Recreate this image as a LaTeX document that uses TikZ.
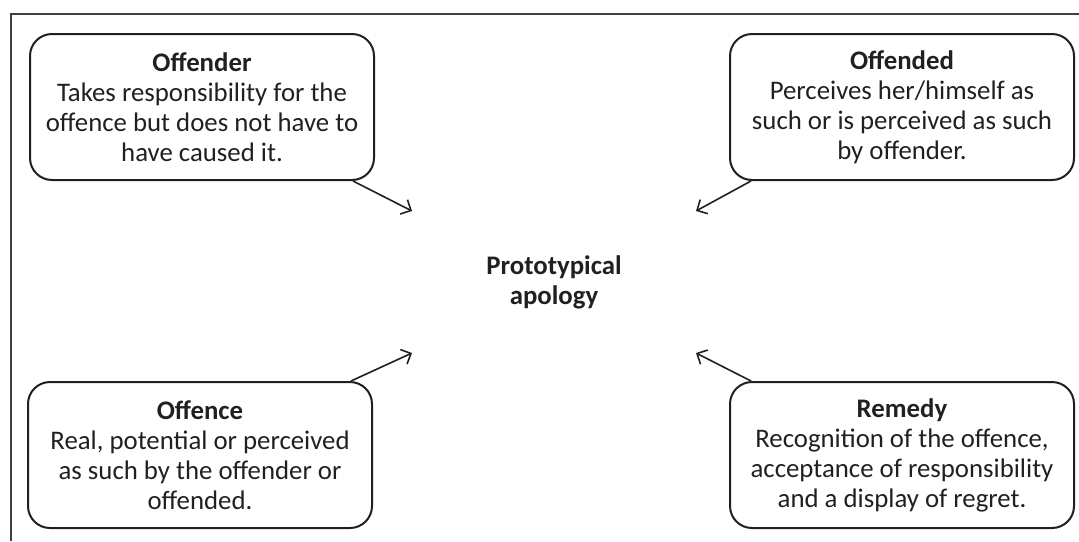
\documentclass[tikz,border=0pt]{standalone}
\usepackage{fontspec}
\setmainfont{Carlito}
\usepackage{tikz}
\usetikzlibrary{arrows.meta,positioning,shapes}
\definecolor{ink}{HTML}{231F20}
\definecolor{framegray}{HTML}{404040}

\begin{document}
\begin{tikzpicture}[x=0.5pt, y=-0.5pt, line width=1pt, draw=ink,
  box node/.style={draw=ink, rounded corners=11pt, minimum width=172pt, minimum height=73pt, inner sep=0pt, align=center, text=ink, font=\fontsize{13.4}{15}\selectfont},
  centre node/.style={minimum width=141pt, minimum height=70pt, inner sep=0pt, align=center, text=ink, font=\fontsize{13.4}{15}\selectfont\bfseries},
  link/.style={draw=ink, line width=0.8pt, -{Straight Barb[length=4pt,width=8pt]}}]%
\useasboundingbox (0,0) rectangle (1079,541);
% open frame
\draw[framegray, line width=0.6pt] (1079,14) -- (11,14) -- (11,541);
\begin{scope}
\node[box node] (offender) at (202,107) {\textbf{Offender}\\Takes responsibility for the\\offence but does not have to\\have caused it.};
\node[box node] (offended) at (902,107) {\textbf{Offended}\\Perceives her/himself as\\such or is perceived as such\\by offender.};
\node[box node] (offence) at (200,455) {\textbf{Offence}\\Real, potential or perceived\\as such by the offender or\\offended.};
\node[box node] (remedy) at (902,455) {\textbf{Remedy}\\Recognition of the offence,\\acceptance of responsibility\\and a display of regret.};
\node[centre node] (apology) at (554,282) {Prototypical\\apology};
\end{scope}
\begin{scope}
\draw[link] ([xshift=-11pt]offender.south east) -- (apology.north west);
\draw[link] ([xshift=11pt]offended.south west) -- (apology.north east);
\draw[link] ([xshift=-11pt]offence.north east) -- (apology.south west);
\draw[link] ([xshift=11pt]remedy.north west) -- (apology.south east);
\end{scope}
\end{tikzpicture}
\end{document}
